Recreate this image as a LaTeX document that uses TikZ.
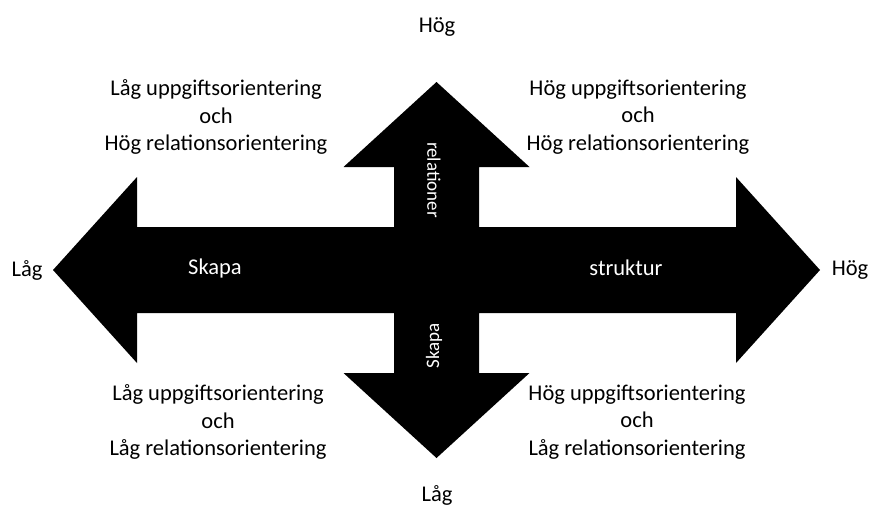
\documentclass[tikz,border=0pt]{standalone}
\usepackage{fontspec}
\setmainfont{Carlito}
\usepackage{tikz}
\usetikzlibrary{positioning, calc}

\begin{document}
\begin{tikzpicture}[x=1pt, y=-1pt,
    qtext/.style={align=center, inner sep=0pt, font=\fontsize{22.5}{27.5}\selectfont},
    axlbl/.style={inner sep=0pt, font=\fontsize{22.5}{27.5}\selectfont},
    inlbl/.style={inner sep=0pt, text=white, font=\fontsize{22.5}{27.5}\selectfont},
    vlbl/.style={inner sep=0pt, text=white, font=\fontsize{19}{23}\selectfont}
  ]
  \useasboundingbox (0,0) rectangle (869,507);
  % cross of four arrows
  \fill[black] (436.5,82) -- (529.5,167) -- (479,167) -- (479,227) -- (736,227) -- (736,177)
    -- (820,270) -- (736,363) -- (736,313) -- (479,313) -- (479,373) -- (529.5,373)
    -- (436.5,458) -- (343.5,373) -- (394,373) -- (394,313) -- (137,313) -- (137,363)
    -- (53,270) -- (137,177) -- (137,227) -- (394,227) -- (394,167) -- (343.5,167) -- cycle;
  % axis ends
  \node[axlbl] (top) at (437,27) {Hög};
  \node[axlbl] (bottom) at (437,495) {Låg};
  \node[axlbl] (left) at (27,270) {Låg};
  \node[axlbl] (right) at (850,270) {Hög};
  % labels on the arrows
  \node[inlbl] (hlow) at (215,268) {Skapa};
  \node[inlbl] (hhigh) at (626,268) {struktur};
  \node[vlbl, rotate=-90] (vhigh) at (434,180) {relationer};
  \node[vlbl, rotate=90] (vlow) at (434,346) {Skapa};
  % quadrants
  \node[qtext] (ql) at (216,117) {Låg uppgiftsorientering\\och\\Hög relationsorientering};
  \node[qtext] (qr) at (638,117) {Hög uppgiftsorientering\\och\\Hög relationsorientering};
  \node[qtext] (bl) at (218,422) {Låg uppgiftsorientering\\och\\Låg relationsorientering};
  \node[qtext] (br) at (637,422) {Hög uppgiftsorientering\\och\\Låg relationsorientering};
\end{tikzpicture}
\end{document}
